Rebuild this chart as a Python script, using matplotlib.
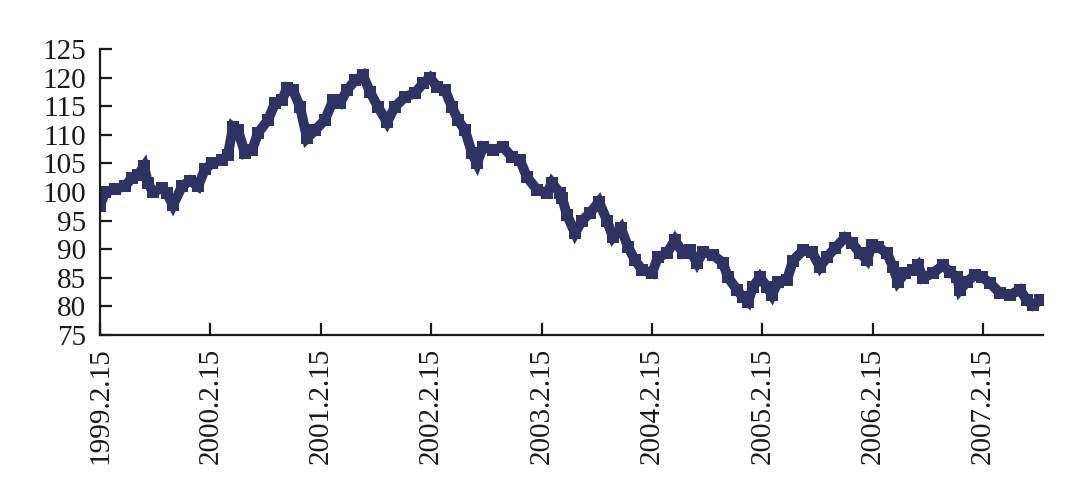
import matplotlib
matplotlib.use("Agg")
import matplotlib.pyplot as plt

# time positions in fractional years (1999.123 == 1999.2.15)
years = [1999.123, 1999.168, 1999.259, 1999.349, 1999.413, 1999.467, 1999.522, 1999.558,
         1999.603, 1999.685, 1999.730, 1999.784, 1999.866, 1999.938, 2000.011, 2000.074,
         2000.137, 2000.228, 2000.282, 2000.328, 2000.373, 2000.436, 2000.500, 2000.554,
         2000.645, 2000.708, 2000.772, 2000.817, 2000.871, 2000.935, 2000.998, 2001.071,
         2001.161, 2001.234, 2001.297, 2001.360, 2001.433, 2001.505, 2001.569, 2001.641,
         2001.723, 2001.795, 2001.886, 2001.976, 2002.049, 2002.112, 2002.176, 2002.248,
         2002.311, 2002.366, 2002.429, 2002.493, 2002.538, 2002.592, 2002.683, 2002.773,
         2002.855, 2002.927, 2002.991, 2003.081, 2003.172, 2003.217, 2003.290, 2003.308,
         2003.353, 2003.426, 2003.489, 2003.561, 2003.643, 2003.715, 2003.770, 2003.842,
         2003.906, 2003.969, 2004.032, 2004.123, 2004.177, 2004.259, 2004.331, 2004.404,
         2004.467, 2004.531, 2004.585, 2004.676, 2004.766, 2004.811, 2004.893, 2004.947,
         2004.993, 2005.038, 2005.101, 2005.165, 2005.210, 2005.264, 2005.346, 2005.400,
         2005.491, 2005.572, 2005.645, 2005.708, 2005.781, 2005.871, 2005.935, 2006.007,
         2006.070, 2006.116, 2006.170, 2006.252, 2006.306, 2006.351, 2006.415, 2006.487,
         2006.532, 2006.578, 2006.668, 2006.759, 2006.822, 2006.886, 2006.913, 2006.976,
         2007.049, 2007.112, 2007.185, 2007.275, 2007.366, 2007.456, 2007.520, 2007.574,
         2007.637]

index_values = [97.5, 100.0, 100.5, 101.0, 102.5, 103.0, 104.5, 101.5,
                100.0, 100.7, 99.8, 97.7, 101.0, 102.0, 101.0, 104.0,
                105.0, 105.6, 106.5, 111.4, 110.8, 106.8, 107.3, 110.3,
                112.6, 115.5, 116.0, 118.2, 117.8, 114.9, 109.4, 110.8,
                112.6, 116.0, 115.5, 117.8, 119.5, 120.4, 117.5, 114.9,
                112.2, 114.9, 116.6, 117.3, 119.0, 120.0, 118.4, 117.8,
                114.9, 112.6, 110.8, 106.8, 105.0, 107.9, 107.3, 107.9,
                106.1, 105.6, 102.6, 100.4, 99.8, 101.6, 99.8, 99.0,
                96.0, 92.8, 95.0, 96.3, 98.3, 95.0, 92.1, 93.7,
                90.4, 88.1, 86.4, 85.8, 88.6, 89.3, 91.6, 89.3,
                89.8, 87.6, 89.5, 89.0, 87.6, 85.1, 82.9, 81.6,
                80.8, 83.4, 85.1, 83.4, 82.0, 84.3, 84.6, 88.0,
                89.8, 89.5, 86.9, 88.6, 90.2, 92.0, 91.1, 89.3,
                88.1, 90.7, 90.4, 89.3, 86.9, 84.3, 85.8, 86.4,
                87.2, 85.0, 85.8, 87.2, 86.0, 85.1, 82.9, 84.3,
                85.5, 85.1, 84.1, 82.3, 82.0, 82.9, 81.1, 80.2,
                81.1]

tick_years = [1999.123, 2000.123, 2001.123, 2002.123, 2003.123,
              2004.123, 2005.123, 2006.123, 2007.123]
tick_labels = ["1999.2.15", "2000.2.15", "2001.2.15", "2002.2.15", "2003.2.15",
               "2004.2.15", "2005.2.15", "2006.2.15", "2007.2.15"]
y_ticks = [75, 80, 85, 90, 95, 100, 105, 110, 115, 120, 125]

plt.rcParams['font.family'] = ['Liberation Serif', 'DejaVu Serif']

fig = plt.figure(figsize=(10.92, 4.92), dpi=100)
ax = fig.add_axes([100 / 1092, 1 - 335 / 492, 943 / 1092, 286 / 492])

color = '#2f3262'
ax.plot(years, index_values, color=color, linewidth=7.2, solid_joinstyle='miter',
        solid_capstyle='butt', marker='s', markersize=8.5, markeredgewidth=0,
        markerfacecolor=color)

ax.set_xlim(1999.123, 2007.665)
ax.set_ylim(75, 125)
ax.set_yticks(y_ticks)
ax.set_yticklabels([str(v) for v in y_ticks])
ax.set_xticks(tick_years)
ax.set_xticklabels(tick_labels, rotation=90, ha='center', va='top')

for side in ['top', 'right']:
    ax.spines[side].set_visible(False)
for side in ['left', 'bottom']:
    ax.spines[side].set_linewidth(1.6)
    ax.spines[side].set_color('#1a1a1a')

ax.tick_params(axis='both', direction='in', length=8.5, width=1.6,
               labelsize=21, colors='#1a1a1a')
ax.tick_params(axis='y', pad=10)
ax.tick_params(axis='x', pad=9)

fig.savefig('out.png', dpi=100)
